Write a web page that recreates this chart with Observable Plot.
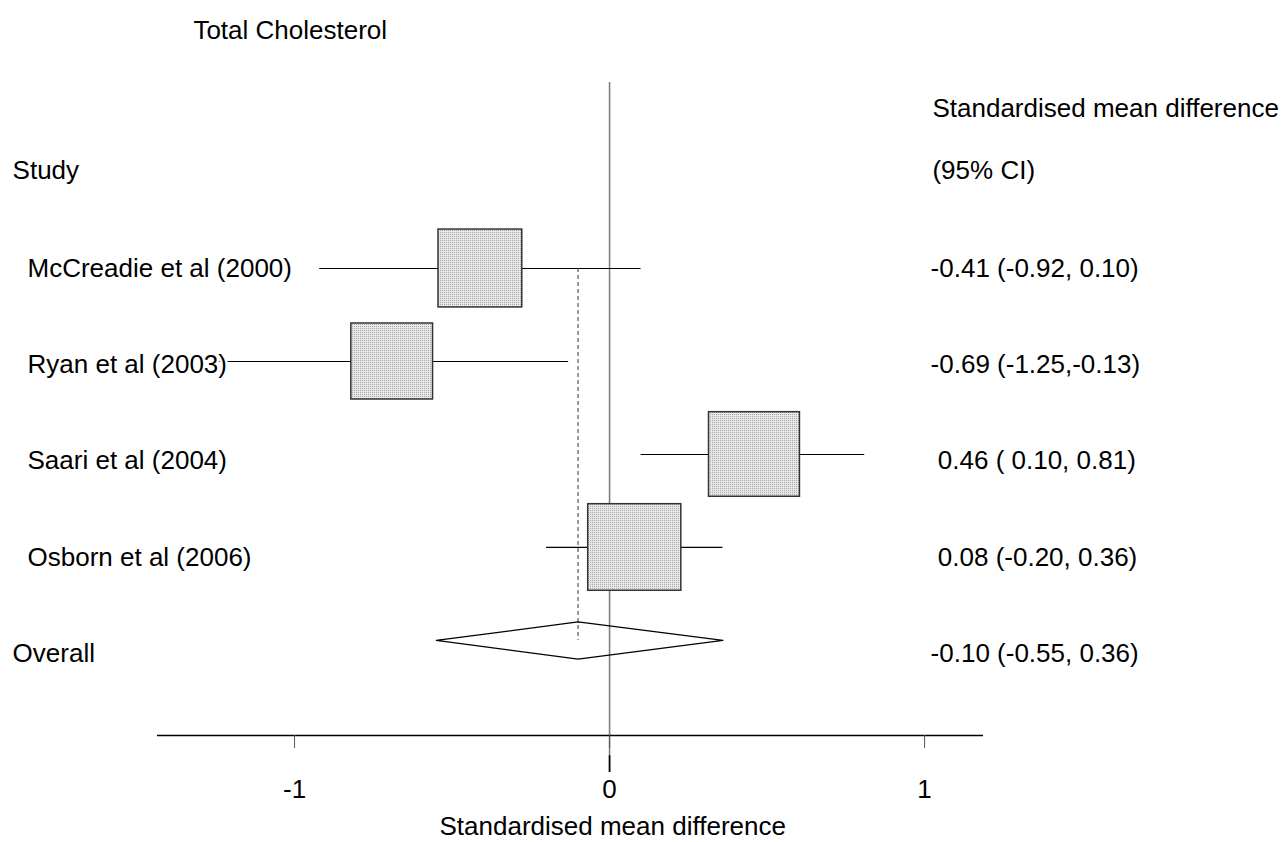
<!DOCTYPE html>
<html><head><meta charset="utf-8">
<script src="https://cdn.jsdelivr.net/npm/d3@7"></script>
<script src="https://cdn.jsdelivr.net/npm/@observablehq/plot@0.6"></script>
<style>
body{margin:0;background:#fff;}
svg text{white-space:pre;}
</style></head><body><div id="chart"></div>
<script>
// ---- data ----
const studies = ["McCreadie et al (2000)", "Ryan et al (2003)", "Saari et al (2004)", "Osborn et al (2006)"];
const smd = [-0.41, -0.69, 0.46, 0.08];
const ciLow = [-0.92, -1.25, 0.10, -0.20];
const ciHigh = [0.10, -0.13, 0.81, 0.36];
const weights = [22.9, 21.8, 27.0, 28.3];
const ciText = ["-0.41 (-0.92, 0.10)", "-0.69 (-1.25,-0.13)", " 0.46 ( 0.10, 0.81)", " 0.08 (-0.20, 0.36)"];
const overallLabel = "Overall";
const overallSmd = -0.10;
const overallLow = -0.55;
const overallHigh = 0.36;
const overallText = "-0.10 (-0.55, 0.36)";
const tickValues = [-1, 0, 1];
const tickLabels = ["-1", "0", "1"];
const titleText = "Total Cholesterol";
const xLabelText = "Standardised mean difference";
const studyHeader = "Study";
const estHeader = ["Standardised mean difference", "(95% CI)"];

// ---- derived table ----
const rows = studies.map((s, i) => ({study: s, est: smd[i], lo: ciLow[i], hi: ciHigh[i], w: weights[i], row: i}));
const nRows = studies.length;
const textStep = 1.035;
const labelRows = [...studies, overallLabel].map((s, i) => ({label: s, row: i * textStep}));
const valueRows = [...ciText, overallText].map((s, i) => ({label: s, row: i * textStep}));

const xMin = -1.435, xMax = 1.187;
const yTop = -2.882, yAxis = 5.022;
const FONT = "Liberation Sans, Arial, Helvetica, sans-serif";
const fs = 26;

const hw = d => Math.sqrt(d.w) * 0.02778;
const hh = d => Math.sqrt(d.w) * 0.0875;
const dh = 0.2;
const diamond = [
  {x: overallLow, y: nRows},
  {x: overallSmd, y: nRows - dh},
  {x: overallHigh, y: nRows},
  {x: overallSmd, y: nRows + dh},
  {x: overallLow, y: nRows}
];

const svg = Plot.plot({
  width: 1281,
  height: 842,
  marginLeft: 157,
  marginRight: 298,
  marginTop: 0,
  marginBottom: 107,
  style: {fontFamily: FONT, fontSize: fs + "px", color: "#000", background: "#fff"},
  x: {domain: [xMin, xMax]},
  y: {domain: [yTop, yAxis], reverse: true, axis: null},
  marks: [
    Plot.ruleX([0], {y1: -2, y2: 5.42, stroke: "#808080", strokeWidth: 1.6}),
    Plot.ruleX([0], {y1: 5.24, y2: 5.42, stroke: "#000", strokeWidth: 1.6}),
    Plot.ruleY([yAxis], {x1: xMin, x2: xMax, stroke: "#000", strokeWidth: 1.3}),
    Plot.axisX(tickValues, {
      tickSize: 13, tickPadding: 31, stroke: "#555",
      tickFormat: (d, i) => tickLabels[i], fontSize: fs, label: null
    }),
    Plot.ruleY(rows, {y: "row", x1: "lo", x2: "hi", stroke: "#000", strokeWidth: 1.2}),
    Plot.ruleX([overallSmd], {y1: 0, y2: nRows, stroke: "#333", strokeWidth: 1, strokeDasharray: "4,3"}),
    Plot.rect(rows, {
      x1: d => d.est - hw(d), x2: d => d.est + hw(d),
      y1: d => d.row - hh(d), y2: d => d.row + hh(d),
      fill: "url(#stipple)", stroke: "#333", strokeWidth: 1.5
    }),
    Plot.line(diamond, {x: "x", y: "y", stroke: "#000", strokeWidth: 1.2, fill: "none"}),
    Plot.text(labelRows, {
      x: (d, i) => i === nRows ? -1.895 : -1.8476, y: "row", text: "label",
      textAnchor: "start", fontSize: fs, fill: "#000", stroke: "white", strokeWidth: 5
    }),
    Plot.text(valueRows, {x: 1.019, y: "row", text: "label", textAnchor: "start", fontSize: fs, fill: "#000"}),
    Plot.text([studyHeader], {x: -1.895, y: -1.054, text: d => d, textAnchor: "start", fontSize: fs}),
    Plot.text(estHeader, {x: 1.025, y: (d, i) => i === 0 ? -1.72 : -1.054, text: d => d, textAnchor: "start", fontSize: fs}),
    Plot.text([titleText], {x: -1.321, y: -2.56, text: d => d, textAnchor: "start", fontSize: fs}),
    Plot.text([xLabelText], {x: 0.01, y: 6.0, text: d => d, textAnchor: "middle", fontSize: fs})
  ]
});

const defs = d3.select(svg).insert("defs", ":first-child");
const p = defs.append("pattern").attr("id", "stipple").attr("width", 2).attr("height", 2).attr("patternUnits", "userSpaceOnUse");
p.append("rect").attr("width", 2).attr("height", 2).attr("fill", "#e8e8e8");
p.append("rect").attr("width", 1).attr("height", 1).attr("fill", "#a8a8a8");

document.getElementById("chart").appendChild(svg);
</script>
</body></html>
